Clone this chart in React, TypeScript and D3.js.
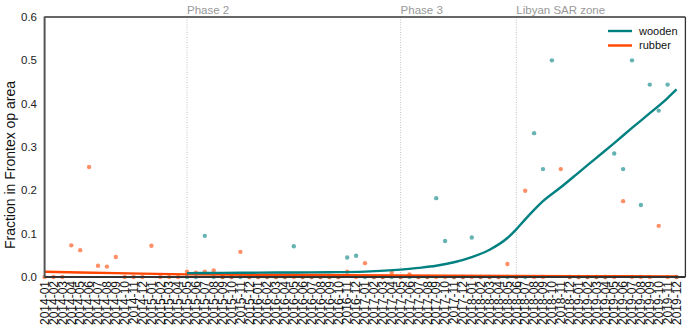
import React from "react";
import * as d3 from "d3";

// Month categories 2014-01 .. 2019-12
const months: string[] = d3
  .timeMonth.range(new Date(2014, 0, 1), new Date(2020, 0, 1))
  .map((d) => d3.timeFormat("%Y-%m")(d));

// Monthly fraction (scatter), null = no observation
const rubberValues: (number | null)[] = [
  0, 0, 0, 0.073, 0.062, 0.254, 0.026, 0.024, 0.046, 0, 0, 0,
  0.072, 0, 0, 0, 0.012, 0.01, 0.012, 0.015, 0, 0, 0.058, 0,
  0, 0, 0, 0, 0, 0, 0, 0, 0, 0, 0.012, 0,
  0.032, 0, 0, 0.01, 0, 0.006, 0, 0, 0, 0, 0, 0,
  0, 0, 0, 0, 0.03, 0, 0.199, 0, 0, null, 0.249, 0,
  0, 0, 0, 0, 0, 0.175, 0, 0, 0, 0.118, 0, 0,
];
const woodenValues: (number | null)[] = [
  null, null, null, null, null, null, null, null, null, null, null, null,
  null, null, null, null, 0, 0, 0.095, 0, 0, 0, 0, 0,
  0, 0, 0, 0, 0.071, 0, 0, 0, 0, 0, 0.045, 0.049,
  0, 0, 0, 0, 0, 0, 0, 0, 0.182, 0.083, 0, 0,
  0.091, 0, 0, 0, 0, 0, 0, 0.332, 0.249, 0.5, null, 0,
  0, 0, 0, 0, 0.285, 0.249, 0.5, 0.166, 0.444, 0.384, 0.444, 0,
];

// Fitted trend lines (month index, value)
const woodenTrendMonth = [16, 20, 24, 28, 32, 36, 40, 42, 44, 46, 48, 50, 52, 53, 54, 55, 56, 58, 60, 62, 64, 66, 68, 70, 71];
const woodenTrendValue = [0.009, 0.0095, 0.010, 0.0105, 0.011, 0.0125, 0.017, 0.021, 0.026, 0.034, 0.046, 0.063, 0.09, 0.11, 0.133, 0.155, 0.175, 0.207, 0.241, 0.275, 0.309, 0.344, 0.378, 0.413, 0.433];
const rubberTrendMonth = [0, 8, 16, 30, 45, 60, 71];
const rubberTrendValue = [0.012, 0.009, 0.006, 0.0045, 0.003, 0.002, 0.0015];

const yTicks = [0, 0.1, 0.2, 0.3, 0.4, 0.5, 0.6];
const phaseLabels = ["Phase 2", "Phase 3", "Libyan SAR zone"];
const phaseMonths = [16, 40, 53];
const seriesNames = ["wooden", "rubber"];

const W = 692, H = 332;
const M = { left: 44.6, right: 685.4, top: 17, bottom: 277 };
const TEAL = "#008080";
const RED = "#ff4500";
const FONT = "'Liberation Sans', Arial, sans-serif";

export default function App() {
  const x = d3.scaleLinear().domain([0, 72]).range([M.left, M.right]);
  const y = d3.scaleLinear().domain([0, 0.6]).range([M.bottom, M.top]);
  const line = d3
    .line<[number, number]>()
    .x((d) => x(d[0]))
    .y((d) => y(d[1]))
    .curve(d3.curveMonotoneX);
  const woodPath = line(woodenTrendMonth.map((m, i) => [m, woodenTrendValue[i]]));
  const rubPath = line(rubberTrendMonth.map((m, i) => [m, rubberTrendValue[i]]));

  return (
    <svg width={W} height={H} style={{ position: "absolute", left: 0, top: 0, background: "#fff" }} fontFamily={FONT}>
      {/* phase lines */}
      {phaseMonths.map((m, i) => (
        <g key={i}>
          <line x1={x(m)} x2={x(m)} y1={M.top} y2={M.bottom} stroke="#c0c0c0" strokeWidth={1} strokeDasharray="1,1.5" />
          <text x={x(m)} y={14} fontSize={11.5} fill="#999">{phaseLabels[i]}</text>
        </g>
      ))}
      {/* scatter */}
      {woodenValues.map((v, i) =>
        v === null ? null : <circle key={"w" + i} cx={x(i)} cy={y(v)} r={2.2} fill={TEAL} fillOpacity={0.6} />
      )}
      {rubberValues.map((v, i) =>
        v === null ? null : <circle key={"r" + i} cx={x(i)} cy={y(v)} r={2.2} fill={RED} fillOpacity={0.6} />
      )}
      {/* trend lines */}
      <path d={rubPath || ""} fill="none" stroke={RED} strokeWidth={2.4} />
      <path d={woodPath || ""} fill="none" stroke={TEAL} strokeWidth={2.4} />
      {/* spines */}
      <line x1={M.left} x2={M.right} y1={M.top} y2={M.top} stroke="#333" strokeWidth={1.3} />
      <line x1={M.right} x2={M.right} y1={M.top} y2={M.bottom} stroke="#333" strokeWidth={1.3} />
      <line x1={M.left} x2={M.right} y1={M.bottom} y2={M.bottom} stroke="#333" strokeWidth={2} />
      <line x1={M.left} x2={M.left} y1={M.top - 0.6} y2={M.bottom + 1} stroke="#555" strokeWidth={2} />
      {/* y ticks */}
      {yTicks.map((t) => (
        <text key={t} x={37} y={y(t)} dy="0.35em" textAnchor="end" fontSize={11.5} fill="#222">
          {t.toFixed(1)}
        </text>
      ))}
      <text transform={`translate(15,165) rotate(-90)`} textAnchor="middle" fontSize={14} fill="#111">
        Fraction in Frontex op area
      </text>
      {/* x ticks */}
      {months.map((m, i) => (
        <text key={m} transform={`translate(${x(i)},${M.bottom + 4}) rotate(-90)`} textAnchor="end" dy="0.35em" fontSize={12} fill="#111">
          {m}
        </text>
      ))}
      {/* legend */}
      {seriesNames.map((s, i) => (
        <g key={s}>
          <line x1={608} x2={632} y1={31 + i * 14.5} y2={31 + i * 14.5} stroke={i === 0 ? TEAL : RED} strokeWidth={2.4} />
          <text x={639} y={31 + i * 14.5} dy="0.35em" fontSize={11} fill="#111">{s}</text>
        </g>
      ))}
    </svg>
  );
}
